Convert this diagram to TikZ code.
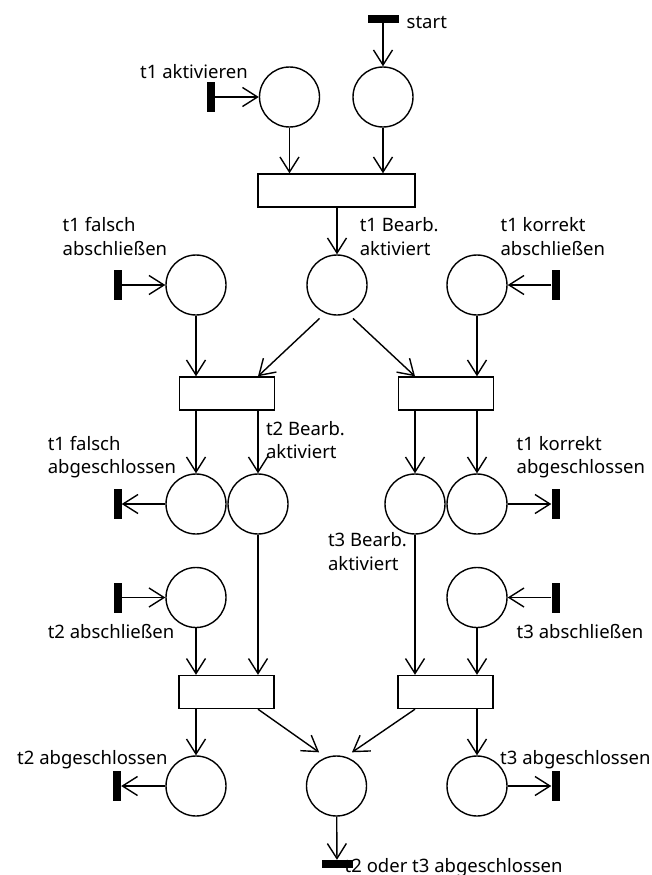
\documentclass[tikz,border=0pt]{standalone}
\usepackage{fontspec}
\setmainfont{Noto Sans}
\usetikzlibrary{arrows.meta,calc}
\begin{document}
\begin{tikzpicture}[x=1pt,y=-1pt,
  place/.style={circle,draw,line width=1.4pt,minimum size=60pt,inner sep=0pt},
  trans/.style={rectangle,draw,line width=1.4pt,inner sep=0pt,minimum height=33pt},
  vbar/.style={rectangle,fill=black,minimum width=8pt,minimum height=30pt,inner sep=0pt},
  hbar/.style={rectangle,fill=black,minimum width=31pt,minimum height=8pt,inner sep=0pt},
  arc/.style={line width=1.4pt,-{Straight Barb[length=15pt,width=19pt,line width=1.4pt]}},
  lbl/.style={font=\fontsize{18.5}{23.5}\selectfont,align=left,inner sep=0pt,anchor=north west},
  slbl/.style={font=\fontsize{18.5}{23.5}\selectfont,inner sep=0pt,anchor=base west}]
\useasboundingbox (0,0) rectangle (651,875);
% top
\node[hbar] (bStart) at (383,19) {};
\node[place] (pStart) at (383,97) {};
\node[place] (pAkt) at (289.5,97) {};
\node[vbar] (bAkt) at (211,97) {};
\node[trans,minimum width=157pt] (T1) at (336.5,190.5) {};
% second row
\node[place] (pB1) at (337,285) {};
\node[place] (pF) at (196,285) {};
\node[place] (pK) at (477,285) {};
\node[vbar] (bF) at (117.5,285) {};
\node[vbar] (bK) at (555.5,285) {};
\node[trans,minimum width=94.5pt] (T2) at (227,393.5) {};
\node[trans,minimum width=94.5pt] (T3) at (446,393.5) {};
% third row
\node[place] (pFA) at (196,504) {};
\node[place] (pB2) at (258,504) {};
\node[place] (pB3) at (415,504) {};
\node[place] (pKA) at (477,504) {};
\node[vbar] (bFA) at (117.5,504) {};
\node[vbar] (bKA) at (555.5,504) {};
% fourth row
\node[place] (pT2) at (196,597.5) {};
\node[place] (pT3) at (477,597.5) {};
\node[vbar] (bT2) at (117.5,597.5) {};
\node[vbar] (bT3) at (555.5,597.5) {};
\node[trans,minimum width=95pt] (T4) at (226.5,692) {};
\node[trans,minimum width=95pt] (T5) at (445.5,692) {};
% bottom row
\node[place] (pT2A) at (196,786) {};
\node[place] (pO) at (336.5,786) {};
\node[place] (pT3A) at (477,786) {};
\node[vbar] (bT2A) at (117,786) {};
\node[vbar] (bT3A) at (555.5,786) {};
\node[hbar] (bO) at (337,864) {};
% labels
\node[slbl] (lStart) at (406.5,29) {start};
\node[slbl] (lAkt) at (140,78) {t1 aktivieren};
\node[lbl] (lF) at (62.5,217.6) {t1 falsch\\abschließen};
\node[lbl] (lB1) at (359.6,217.6) {t1 Bearb.\\aktiviert};
\node[lbl] (lK) at (500.4,217.6) {t1 korrekt\\abschließen};
\node[lbl] (lFA) at (47.6,435.9) {t1 falsch\\abgeschlossen};
\node[lbl] (lB2) at (265.8,420.9) {t2 Bearb.\\aktiviert};
\node[lbl] (lKA) at (516.5,435.9) {t1 korrekt\\abgeschlossen};
\node[lbl] (lB3) at (327.8,532.6) {t3 Bearb.\\aktiviert};
\node[slbl] (lT2) at (47.6,638.3) {t2 abschließen};
\node[slbl] (lT3) at (516.5,638.3) {t3 abschließen};
\node[slbl] (lT2A) at (17,764) {t2 abgeschlossen};
\node[slbl] (lT3A) at (500,764) {t3 abgeschlossen};
\node[slbl] (lO) at (344.5,872.7) {t2 oder t3 abgeschlossen};
% arcs top
\draw[arc] (bStart) -- (pStart);
\draw[arc] (bAkt) -- (pAkt);
\draw[arc] (pAkt) -- (T1.north -| pAkt);
\draw[arc] (pStart) -- (T1.north -| pStart);
\draw[arc] (T1.south -| pB1) -- (pB1);
% second row
\draw[arc] (bF) -- (pF);
\draw[arc] (bK) -- (pK);
\draw[arc] (pF) -- (T2.north -| pF);
\draw[arc] ($(pB1.south)+(-17.4,2.7)$) -- (T2.north -| pB2);
\draw[arc] ($(pB1.south)+(16,2.7)$) -- (T3.north -| pB3);
\draw[arc] (pK) -- (T3.north -| pK);
\draw[arc] (T2.south -| pFA) -- (pFA);
\draw[arc] (T2.south -| pB2) -- (pB2);
\draw[arc] (T3.south -| pB3) -- (pB3);
\draw[arc] (T3.south -| pKA) -- (pKA);
% third row
\draw[arc] (pFA) -- (bFA);
\draw[arc] (pKA) -- (bKA);
\draw[arc] (bT2) -- (pT2);
\draw[arc] (bT3) -- (pT3);
\draw[arc] (pT2) -- (T4.north -| pT2);
\draw[arc] (pB2) -- (T4.north -| pB2);
\draw[arc] (pB3) -- (T5.north -| pB3);
\draw[arc] (pT3) -- (T5.north -| pT3);
% bottom
\draw[arc] (T4.south -| pT2A) -- (pT2A);
\draw[arc] (T4.south -| pB2) -- ($(pO.north)+(-17.4,-3)$);
\draw[arc] (T5.south -| pB3) -- ($(pO.north)+(15.5,-3)$);
\draw[arc] (T5.south -| pT3A) -- (pT3A);
\draw[arc] (pT2A) -- (bT2A);
\draw[arc] (pT3A) -- (bT3A);
\draw[arc] (pO) -- (bO);
\end{tikzpicture}
\end{document}
